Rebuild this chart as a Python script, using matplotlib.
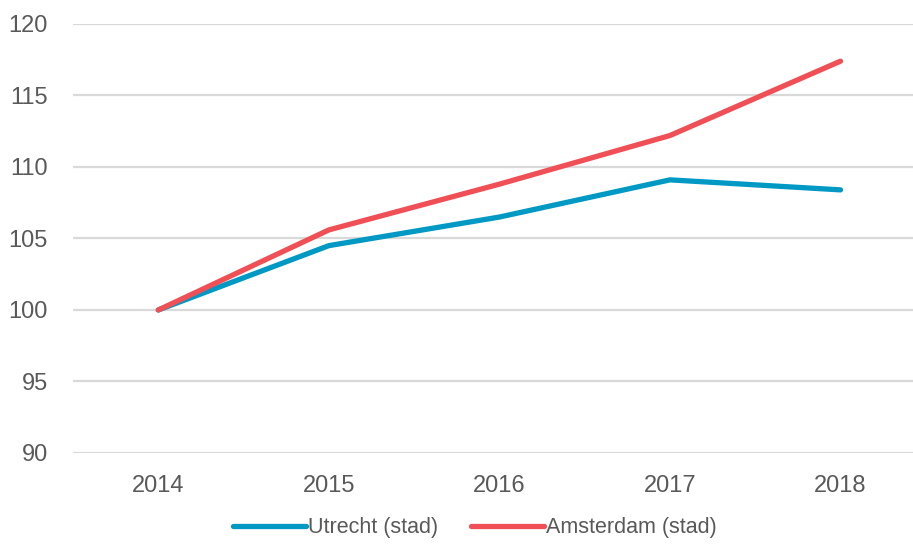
import matplotlib.pyplot as plt

years = [2014, 2015, 2016, 2017, 2018]
utrecht = [100, 104.5, 106.5, 109.1, 108.4]
amsterdam = [100, 105.6, 108.8, 112.2, 117.4]

plt.rcParams['font.family'] = ['Liberation Sans', 'DejaVu Sans']

fig = plt.figure(figsize=(9.13, 5.44), dpi=100)
ax = fig.add_axes([0.08, 0.1673, 0.934, 0.7886])

ax.plot(years, utrecht, color='#0099C4', lw=3.8, solid_capstyle='round',
        label='Utrecht (stad)')
ax.plot(years, amsterdam, color='#EF4F55', lw=3.8, solid_capstyle='round',
        label='Amsterdam (stad)')

ax.set_xlim(2013.5, 2018.5)
ax.set_ylim(90, 120)
ax.set_xticks(years)
ax.set_yticks(range(90, 121, 5))
ax.grid(axis='y', color='#D9D9D9', lw=1.6)
ax.set_axisbelow(True)
for s in ax.spines.values():
    s.set_visible(False)
ax.tick_params(length=0, labelsize=17, labelcolor='#595959')
ax.tick_params(axis='y', pad=18)
ax.tick_params(axis='x', pad=16)

leg = fig.legend(loc='lower center', bbox_to_anchor=(0.52, -0.025), ncol=2,
                 frameon=False, fontsize=15.5, handlelength=3.4,
                 handletextpad=0.1, columnspacing=1.5)
for t in leg.get_texts():
    t.set_color('#595959')

fig.savefig('out.png', dpi=100)
